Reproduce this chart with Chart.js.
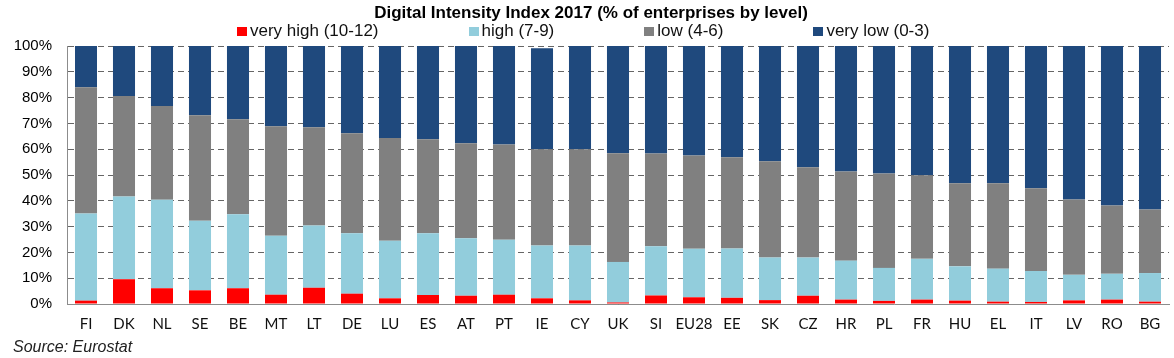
<!DOCTYPE html>
<html>
<head>
<meta charset="utf-8">
<script src="https://cdn.jsdelivr.net/npm/chart.js@4.4.1/dist/chart.umd.min.js"></script>
<style>
    html, body { margin: 0; padding: 0; background: #fff; }
    #wrap { position: relative; width: 1174px; height: 358px; }
    #legend {
        position: absolute; top: 21px; left: 237px;
        display: flex; gap: 90px;
        font: 17px Arial, "Liberation Sans", sans-serif; color: #111; line-height: 20px;
    }
    .item { display: flex; align-items: center; white-space: nowrap; }
    .box { width: 10px; height: 9px; margin-right: 3px; }
</style>
</head>
<body>
<div id="wrap">
    <canvas id="chart" width="1174" height="358"></canvas>
    <div id="legend"></div>
</div>
<script>
// 國家 / 類別
const countries = ['FI', 'DK', 'NL', 'SE', 'BE', 'MT', 'LT', 'DE', 'LU', 'ES', 'AT', 'PT', 'IE', 'CY', 'UK',
    'SI', 'EU28', 'EE', 'SK', 'CZ', 'HR', 'PL', 'FR', 'HU', 'EL', 'IT', 'LV', 'RO', 'BG'];

// 各等級比例 (%)
const veryHigh = [1.3, 9.6, 6.1, 5.3, 6.1, 3.6, 6.3, 4.0, 2.2, 3.5, 3.2, 3.6, 2.2, 1.4, 0.6,
    3.3, 2.6, 2.4, 1.5, 3.2, 1.7, 1.2, 1.7, 1.3, 0.9, 0.8, 1.4, 1.7, 0.9];
const high = [33.8, 32.1, 34.3, 27.0, 28.7, 22.9, 24.1, 23.4, 22.3, 23.9, 22.3, 21.3, 20.5, 21.3, 15.7,
    19.1, 18.8, 19.1, 16.5, 14.8, 15.1, 12.8, 15.8, 13.3, 12.8, 12.0, 9.9, 10.0, 11.1];
const low = [48.9, 38.9, 36.3, 40.9, 36.8, 42.4, 38.1, 38.8, 39.8, 36.5, 36.8, 36.9, 37.3, 37.3, 42.1,
    35.9, 36.2, 35.4, 37.3, 35.0, 34.6, 36.6, 32.4, 32.2, 33.1, 32.1, 29.2, 26.5, 24.6];
const veryLow = [16.0, 19.4, 23.3, 26.8, 28.4, 31.1, 31.5, 33.8, 35.7, 36.1, 37.7, 38.2, 39.1, 40.0, 41.6,
    41.7, 42.4, 43.1, 44.7, 47.0, 48.6, 49.4, 50.1, 53.2, 53.2, 55.1, 59.5, 61.8, 63.4];

const seriesNames = ['very high (10-12)', 'high (7-9)', 'low (4-6)', 'very low (0-3)'];
const seriesColors = ['#ff0000', '#92cddc', '#808080', '#1f497d'];
const yTickLabels = ['0%', '10%', '20%', '30%', '40%', '50%', '60%', '70%', '80%', '90%', '100%'];

const ARIAL = 'Arial, "Liberation Sans", sans-serif';

const seriesData = [veryHigh, high, low, veryLow];
const datasets = seriesNames.map((name, i) => ({
    label: name,
    data: seriesData[i],
    backgroundColor: seriesColors[i],
    borderWidth: 0,
    barPercentage: 0.58,
    categoryPercentage: 1.0
}));

const chart = new Chart(document.getElementById('chart').getContext('2d'), {
    type: 'bar',
    data: { labels: countries, datasets: datasets },
    options: {
        responsive: false,
        animation: false,
        devicePixelRatio: 1,
        layout: { padding: { left: 13, right: 5, top: 0, bottom: 0 } },
        plugins: {
            legend: { display: false },
            tooltip: { enabled: false },
            title: {
                display: true,
                text: 'Digital Intensity Index 2017 (% of enterprises by level)',
                color: '#000',
                font: { family: ARIAL, size: 17, weight: 'bold' },
                padding: { top: 3, bottom: 22.6 }
            },
            subtitle: {
                display: true,
                position: 'bottom',
                align: 'start',
                text: 'Source: Eurostat',
                color: '#222',
                font: { family: ARIAL, size: 16, style: 'italic' },
                padding: { top: 4, bottom: 0.8 }
            }
        },
        scales: {
            x: {
                stacked: true,
                grid: { display: false, drawTicks: false },
                border: { display: true, color: '#8c8c8c', width: 1 },
                ticks: {
                    color: '#111',
                    font: { family: 'Lato, "Open Sans", sans-serif', size: 15 },
                    padding: 11,
                    maxRotation: 0,
                    autoSkip: false
                },
                afterFit: (s) => { s.height = 30; }
            },
            y: {
                stacked: true,
                min: 0,
                max: 100,
                grid: { color: '#666666', drawTicks: false, lineWidth: 1 },
                // v4: border.dash 控制格線虛線
                border: { display: true, color: '#8c8c8c', width: 1, dash: [6, 4] },
                ticks: {
                    stepSize: 10,
                    color: '#000',
                    font: { family: ARIAL, size: 15 },
                    padding: 15,
                    callback: (v) => yTickLabels[Math.round(v / 10)]
                },
                afterFit: (s) => { s.width = 54; }
            }
        }
    }
});

// HTML 圖例
const legendEl = document.getElementById('legend');
chart.data.datasets.forEach(ds => {
    const item = document.createElement('div');
    item.className = 'item';
    const box = document.createElement('span');
    box.className = 'box';
    box.style.background = ds.backgroundColor;
    const txt = document.createElement('span');
    txt.textContent = ds.label;
    item.appendChild(box);
    item.appendChild(txt);
    legendEl.appendChild(item);
});
</script>
</body>
</html>
